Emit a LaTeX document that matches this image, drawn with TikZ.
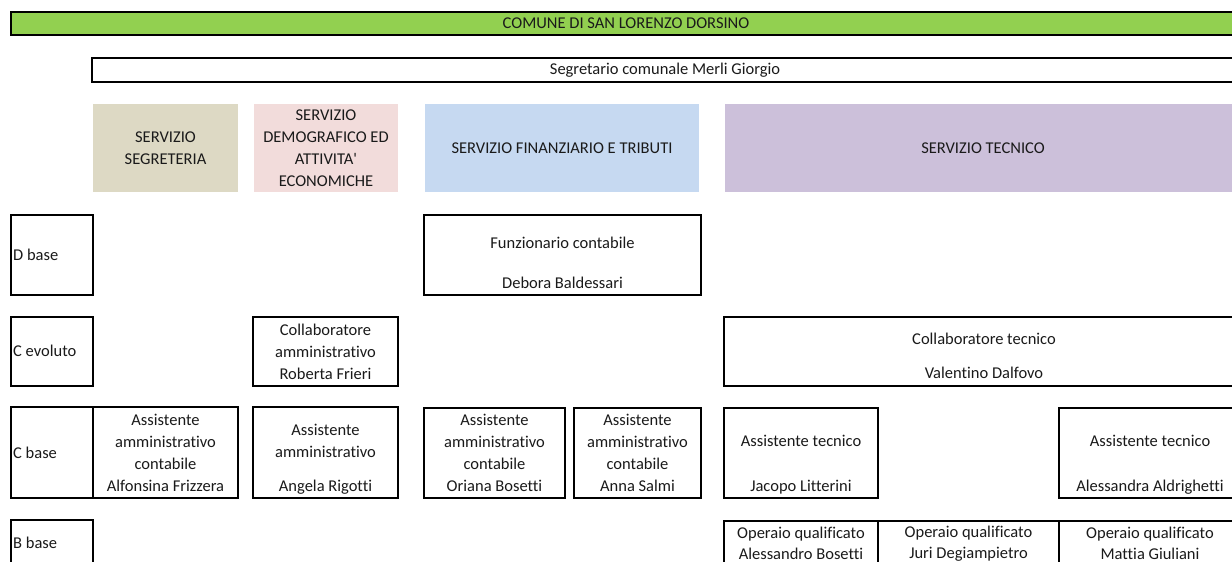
\documentclass[tikz,border=0pt]{standalone}
\usepackage{fontspec}
\newfontfamily\calib[Ligatures=NoCommon]{Carlito}
\definecolor{topgreen}{HTML}{92D050}
\definecolor{htan}{HTML}{DDD9C4}
\definecolor{hpink}{HTML}{F2DCDB}
\definecolor{hblue}{HTML}{C6D9F1}
\definecolor{hlav}{HTML}{CCC0DA}
\definecolor{textc}{HTML}{1A1A1A}
\newcommand\bx[7]{\node[#6, minimum width={(#4)-(#2)}, minimum height={(#5)-(#3)}] (#1) at ({((#2)+(#4))/2},{((#3)+(#5))/2}) {#7};}
\begin{document}
\begin{tikzpicture}[x=1pt,y=-1pt,
  frame/.style={draw=black, line width=2.8pt, inner sep=0pt, font=\calib\fontsize{16.5}{22}\selectfont, text=textc, align=center},
  head/.style={draw=none, inner sep=0pt, font=\calib\fontsize{16.5}{22}\selectfont, text=textc, align=center},
  txt/.style={font=\calib\fontsize{16.5}{22}\selectfont, text=textc, align=center, inner sep=0pt},
]
\useasboundingbox (0,0) rectangle (1232,562);
\fill[white] (0,0) rectangle (1232,562);
\clip (0,0) rectangle (1232,562);
% top bars
\bx{comune}{11}{12}{1241}{35}{frame, fill=topgreen}{COMUNE DI SAN LORENZO DORSINO}
\bx{segr}{92}{58}{1238}{82}{frame}{Segretario comunale Merli Giorgio}
% service headers
\bx{hseg}{93}{104}{238}{192}{head, fill=htan}{SERVIZIO\\SEGRETERIA}
\bx{hdem}{254}{104}{398}{192}{head, fill=hpink}{SERVIZIO\\DEMOGRAFICO ED\\ATTIVITA'\\ECONOMICHE}
\bx{hfin}{425}{104}{699}{192}{head, fill=hblue}{SERVIZIO FINANZIARIO E TRIBUTI}
\bx{htec}{725}{104}{1241}{192}{head, fill=hlav}{SERVIZIO TECNICO}
% level boxes
\bx{lD}{11}{215}{93}{295}{frame}{}
\bx{lCe}{11}{317}{93}{386}{frame}{}
\bx{lCb}{11}{407}{93}{498}{frame}{}
\bx{lB}{11}{520}{93}{566}{frame}{}
\node[txt, anchor=west] (tD) at (13,255) {D base};
\node[txt, anchor=west] (tCe) at (13,351) {C evoluto};
\node[txt, anchor=west] (tCb) at (13,453) {C base};
\node[txt, anchor=west] (tB) at (13,543) {B base};
% D base
\bx{deb}{424}{215}{701}{295}{frame}{}
\node[txt] (tdeb) at (562.5,263) {Funzionario contabile\\[18pt]Debora Baldessari};
% C evoluto
\bx{rob}{253}{317}{398}{386}{frame}{Collaboratore\\amministrativo\\Roberta Frieri}
\bx{val}{724}{317}{1241}{386}{frame}{}
\node[txt] (tval) at (984,356) {Collaboratore tecnico\\[12pt]Valentino Dalfovo};
% C base
\bx{alf}{93}{407}{238}{498}{frame}{Assistente\\amministrativo\\contabile\\Alfonsina Frizzera}
\bx{ang}{253}{407}{398}{498}{frame}{}
\node[txt] (tang) at (325.5,459) {Assistente\\amministrativo\\[12pt]Angela Rigotti};
\bx{ori}{424}{408}{565}{498}{frame}{Assistente\\amministrativo\\contabile\\Oriana Bosetti}
\bx{ann}{574}{408}{701}{498}{frame}{Assistente\\amministrativo\\contabile\\Anna Salmi}
\bx{jac}{724}{408}{878}{498}{frame}{}
\node[txt] (tjac) at (801,464.5) {Assistente tecnico\\[23pt]Jacopo Litterini};
\bx{ale}{1059}{408}{1241}{498}{frame}{}
\node[txt] (tale) at (1150,464.5) {Assistente tecnico\\[23pt]Alessandra Aldrighetti};
% B base
\bx{op1}{724}{521}{878}{566}{frame}{Operaio qualificato\\[-1pt]Alessandro Bosetti}
\bx{op2}{878}{521}{1059}{566}{frame}{Operaio qualificato\\[-1pt]Juri Degiampietro}
\bx{op3}{1059}{521}{1241}{566}{frame}{Operaio qualificato\\[-1pt]Mattia Giuliani}
\end{tikzpicture}
\end{document}
